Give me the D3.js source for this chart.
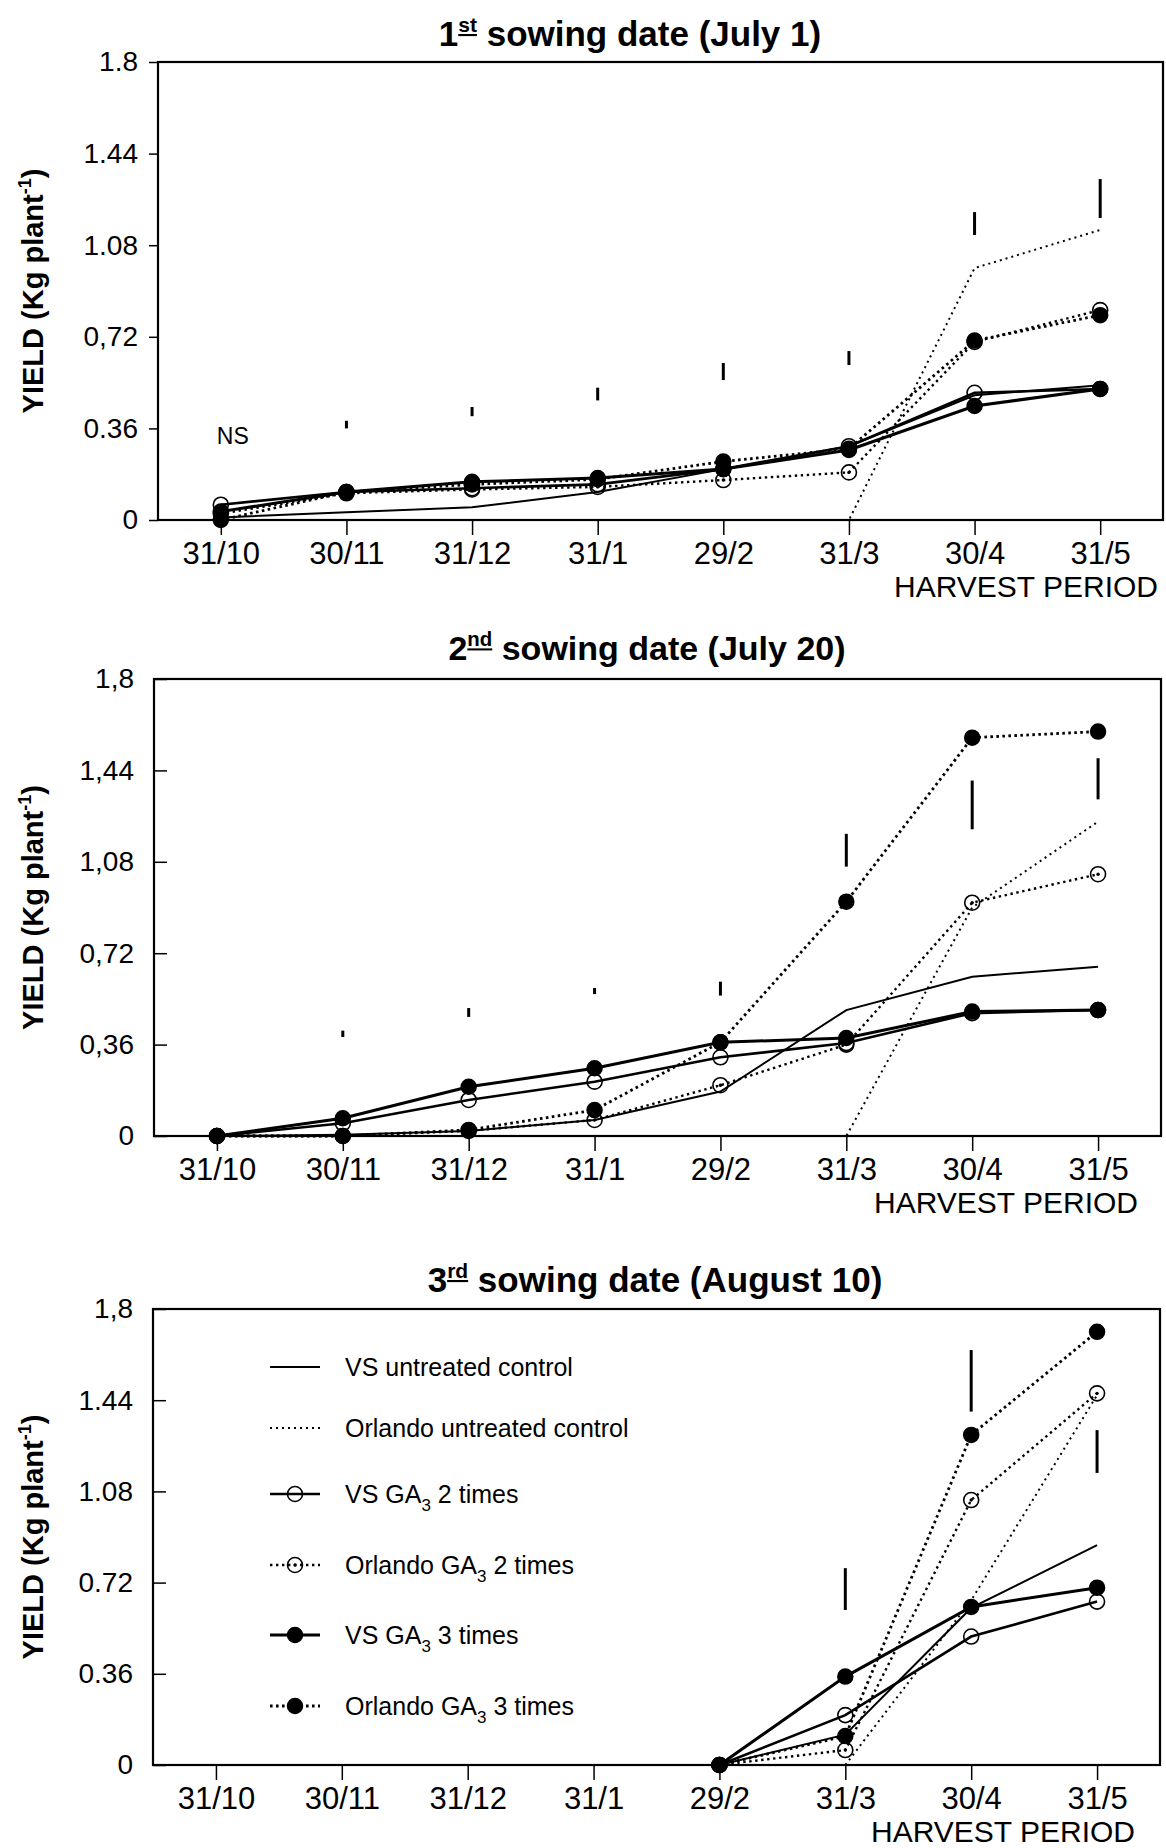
<!DOCTYPE html>
<html>
<head>
<meta charset="utf-8">
<script src="https://cdn.jsdelivr.net/npm/d3@7"></script>
<style>
  html, body { margin: 0; padding: 0; background: #fff; }
  svg { display: block; font-family: "Liberation Sans", Arial, sans-serif; }
</style>
</head>
<body>
<svg id="chart" width="1166" height="1848"></svg>
<script>
// ----- data -----
const dates = ["31/10", "30/11", "31/12", "31/1", "29/2", "31/3", "30/4", "31/5"];
const seriesNames = ["VS untreated control", "Orlando untreated control", "VS GA3 2 times",
  "Orlando GA3 2 times", "VS GA3 3 times", "Orlando GA3 3 times"];
const yTickValues = [0, 0.36, 0.72, 1.08, 1.44, 1.8];

// 1st sowing date (July 1)
const s1VsControl = [0.01, 0.03, 0.05, 0.11, 0.20, 0.29, 0.49, 0.53];
const s1OrlControl = [0, 0, 0, 0, 0, 0, 0.99, 1.14];
const s1VsGa2 = [0.06, 0.11, 0.125, 0.14, 0.20, 0.29, 0.50, 0.515];
const s1OrlGa2 = [0.025, 0.105, 0.12, 0.13, 0.157, 0.187, 0.70, 0.825];
const s1VsGa3 = [0.033, 0.11, 0.15, 0.165, 0.20, 0.275, 0.448, 0.515];
const s1OrlGa3 = [0, 0.11, 0.14, 0.16, 0.23, 0.28, 0.705, 0.805];
const s1Lsd = [null, [0.36, 0.39], [0.408, 0.444], [0.47, 0.52], [0.55, 0.617], [0.609, 0.664], [1.12, 1.21], [1.187, 1.34]];
const s1TickLabels = ["0", "0.36", "0,72", "1.08", "1.44", "1.8"];

// 2nd sowing date (July 20)
const s2VsControl = [0, 0.005, 0.02, 0.063, 0.175, 0.496, 0.627, 0.667];
const s2OrlControl = [0, 0, 0, 0, 0, 0, 0.90, 1.238];
const s2VsGa2 = [0, 0.05, 0.142, 0.214, 0.31, 0.366, 0.484, 0.496];
const s2OrlGa2 = [0, 0, 0.02, 0.063, 0.20, 0.36, 0.919, 1.031];
const s2VsGa3 = [0, 0.07, 0.194, 0.267, 0.369, 0.386, 0.49, 0.496];
const s2OrlGa3 = [0, 0, 0.024, 0.102, 0.369, 0.923, 1.569, 1.593];
const s2Lsd = [null, [0.39, 0.415], [0.469, 0.504], [0.559, 0.583], [0.553, 0.608], [1.061, 1.19], [1.208, 1.40], [1.326, 1.488]];
const s2TickLabels = ["0", "0,36", "0,72", "1,08", "1,44", "1,8"];

// 3rd sowing date (August 10) - no harvest before 29/2
const s3VsControl = [null, null, null, null, 0, 0.12, 0.62, 0.868];
const s3OrlControl = [null, null, null, null, 0, 0, 0.65, 1.46];
const s3VsGa2 = [null, null, null, null, 0, 0.197, 0.507, 0.645];
const s3OrlGa2 = [null, null, null, null, 0, 0.059, 1.046, 1.467];
const s3VsGa3 = [null, null, null, null, 0, 0.349, 0.624, 0.70];
const s3OrlGa3 = [null, null, null, null, 0, 0.114, 1.303, 1.71];
const s3Lsd = [null, null, null, null, null, [0.612, 0.777], [1.395, 1.638], [1.153, 1.322]];
const s3TickLabels = ["0", "0.36", "0.72", "1.08", "1.44", "1,8"];

// ----- styles per series: line dash + marker -----
const seriesStyle = [
  { dash: null, width: 2, marker: null },
  { dash: "2,4", width: 2, marker: null },
  { dash: null, width: 2.6, marker: "open" },
  { dash: "2.4,3.6", width: 2.4, marker: "dot" },
  { dash: null, width: 3, marker: "filled" },
  { dash: "2.6,3.4", width: 2.8, marker: "filled" }
];

// ----- panel layout -----
const panels = [
  { title: ["1", "st", " sowing date (July 1)"], titleX: 630, titleY: 46, titleSize: 35,
    left: 158, right: 1163, top: 62, bottom: 520, tickIn: false, harvestX: 1158,
    series: [s1VsControl, s1OrlControl, s1VsGa2, s1OrlGa2, s1VsGa3, s1OrlGa3],
    lsd: s1Lsd, labels: s1TickLabels, ns: true, legend: false },
  { title: ["2", "nd", " sowing date (July 20)"], titleX: 647, titleY: 660, titleSize: 34,
    left: 154, right: 1161, top: 679, bottom: 1136, tickIn: true, harvestX: 1138,
    series: [s2VsControl, s2OrlControl, s2VsGa2, s2OrlGa2, s2VsGa3, s2OrlGa3],
    lsd: s2Lsd, labels: s2TickLabels, ns: false, legend: false },
  { title: ["3", "rd", " sowing date (August 10)"], titleX: 655, titleY: 1292, titleSize: 35,
    left: 153, right: 1160, top: 1309, bottom: 1765, tickIn: true, harvestX: 1135,
    series: [s3VsControl, s3OrlControl, s3VsGa2, s3OrlGa2, s3VsGa3, s3OrlGa3],
    lsd: s3Lsd, labels: s3TickLabels, ns: false, legend: true }
];

const svg = d3.select("#chart");

function drawMarker(g, type, cx, cy, r) {
  if (type === "filled") {
    g.append("circle").attr("cx", cx).attr("cy", cy).attr("r", r)
      .attr("fill", "#000").attr("stroke", "#000").attr("stroke-width", 1.5);
  } else if (type === "open" || type === "dot") {
    g.append("circle").attr("cx", cx).attr("cy", cy).attr("r", r)
      .attr("fill", "none").attr("stroke", "#000").attr("stroke-width", 1.6);
    if (type === "dot") {
      g.append("circle").attr("cx", cx).attr("cy", cy).attr("r", 1.7).attr("fill", "#000");
    }
  }
}

panels.forEach(p => {
  const g = svg.append("g");
  const x = d3.scalePoint().domain(dates).range([p.left, p.right]).padding(0.5);
  const y = d3.scaleLinear().domain([0, 1.8]).range([p.bottom, p.top]);

  // title with underlined superscript
  const t = g.append("text")
    .attr("x", p.titleX).attr("y", p.titleY)
    .attr("text-anchor", "middle")
    .attr("font-weight", "bold")
    .attr("font-size", p.titleSize);
  t.append("tspan").text(p.title[0]);
  t.append("tspan").attr("font-size", p.titleSize * 0.6).attr("dy", -p.titleSize * 0.4)
    .attr("text-decoration", "underline").text(p.title[1]);
  t.append("tspan").attr("dy", p.titleSize * 0.4).text(p.title[2]);

  // y axis
  const yAxis = g.append("g")
    .attr("transform", `translate(${p.left},0)`)
    .call(d3.axisLeft(y).tickValues(yTickValues)
      .tickFormat((d, i) => p.labels[i])
      .tickSizeInner(p.tickIn ? -13 : 9).tickSizeOuter(0).tickPadding(p.tickIn ? 20 : 11));
  yAxis.select(".domain").remove();
  yAxis.selectAll("line").attr("stroke-width", 1.5);
  yAxis.selectAll("text").attr("font-size", 28).attr("fill", "#000")
    .attr("font-family", "'Liberation Sans', Arial, sans-serif");

  // x axis
  const xAxis = g.append("g")
    .attr("transform", `translate(0,${p.bottom})`)
    .call(d3.axisBottom(x).tickSizeInner(15).tickSizeOuter(0));
  xAxis.select(".domain").remove();
  xAxis.selectAll("line").attr("stroke-width", 1.5);
  xAxis.selectAll("text").attr("font-size", 31).attr("fill", "#000")
    .attr("y", 44).attr("dy", 0)
    .attr("font-family", "'Liberation Sans', Arial, sans-serif");

  g.append("text")
    .attr("x", p.harvestX).attr("y", p.bottom + 77)
    .attr("text-anchor", "end").attr("font-size", 30)
    .text("HARVEST PERIOD");

  // frame
  g.append("rect")
    .attr("x", p.left).attr("y", p.top)
    .attr("width", p.right - p.left).attr("height", p.bottom - p.top)
    .attr("fill", "none").attr("stroke", "#000").attr("stroke-width", 2.2);

  // y label
  const yl = g.append("text")
    .attr("transform", `translate(43,${(p.top + p.bottom) / 2}) rotate(-90)`)
    .attr("text-anchor", "middle").attr("font-weight", "bold").attr("font-size", 29);
  yl.append("tspan").text("YIELD (Kg plant");
  yl.append("tspan").attr("font-size", 18).attr("dy", -12).text("-1");
  yl.append("tspan").attr("dy", 12).text(")");

  // LSD bars
  g.append("g").selectAll("line")
    .data(p.lsd.map((v, i) => ({ v, d: dates[i] })).filter(o => o.v))
    .enter().append("line")
    .attr("x1", o => x(o.d)).attr("x2", o => x(o.d))
    .attr("y1", o => y(o.v[0])).attr("y2", o => y(o.v[1]))
    .attr("stroke", "#000").attr("stroke-width", 3);

  if (p.ns) {
    g.append("text").attr("x", x(dates[0]) + 12).attr("y", y(0.30))
      .attr("text-anchor", "middle").attr("font-size", 23).text("NS");
  }

  // lines
  const line = d3.line()
    .defined(d => d.v !== null)
    .x(d => x(d.d)).y(d => y(d.v));
  p.series.forEach((s, k) => {
    const st = seriesStyle[k];
    g.append("path")
      .datum(s.map((v, i) => ({ v, d: dates[i] })))
      .attr("d", line)
      .attr("fill", "none").attr("stroke", "#000")
      .attr("stroke-width", st.width)
      .attr("stroke-dasharray", st.dash);
  });

  // markers
  p.series.forEach((s, k) => {
    const st = seriesStyle[k];
    if (!st.marker) return;
    s.forEach((v, i) => {
      if (v === null) return;
      drawMarker(g, st.marker, x(dates[i]), y(v), 7.5);
    });
  });

  // legend (3rd panel only)
  if (p.legend) {
    const legY = [1367, 1428, 1494, 1565, 1635, 1706];
    seriesNames.forEach((name, k) => {
      const st = seriesStyle[k];
      const ly = legY[k];
      g.append("line").attr("x1", 270).attr("x2", 320).attr("y1", ly).attr("y2", ly)
        .attr("stroke", "#000").attr("stroke-width", st.width)
        .attr("stroke-dasharray", st.dash);
      drawMarker(g, st.marker, 295, ly, 7.5);
      const txt = g.append("text").attr("x", 345).attr("y", ly + 9).attr("font-size", 25);
      if (name.includes("GA3")) {
        const parts = name.split("GA3");
        txt.append("tspan").text(parts[0] + "GA");
        txt.append("tspan").attr("font-size", 17).attr("dy", 8).text("3");
        txt.append("tspan").attr("dy", -8).text(parts[1]);
      } else {
        txt.text(name);
      }
    });
  }
});
</script>
</body>
</html>
